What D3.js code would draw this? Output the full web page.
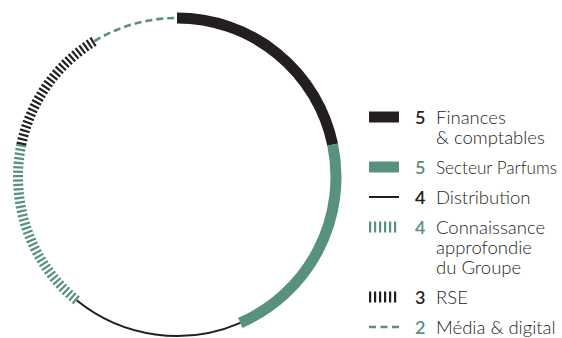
<!DOCTYPE html>
<html>
<head>
<meta charset="utf-8">
<script src="https://cdn.jsdelivr.net/npm/d3@7"></script>
<style>
  html, body { margin: 0; padding: 0; background: #fff; }
  svg { display: block; }
  text { font-family: Lato, "Open Sans", sans-serif; }
</style>
</head>
<body>
<svg id="chart"></svg>
<script>
// ---------- data ----------
const categories = ["Finances & comptables", "Secteur Parfums", "Distribution",
                    "Connaissance approfondie du Groupe", "RSE", "Média & digital"];
const labelLines = [["Finances", "& comptables"], ["Secteur Parfums"], ["Distribution"],
                    ["Connaissance", "approfondie", "du Groupe"], ["RSE"], ["Média & digital"]];
const counts = [5, 5, 4, 4, 3, 2];

// ---------- styles per category ----------
const BLACK = "#231f20", GREEN = "#58917c";
const styles = [
  {color: BLACK, width: 11,  dash: null,      numColor: BLACK},
  {color: GREEN, width: 11,  dash: null,      numColor: GREEN},
  {color: BLACK, width: 2,   dash: null,      numColor: BLACK},
  {color: GREEN, width: 10,  dash: "2.2 2.2", numColor: GREEN},
  {color: BLACK, width: 10,  dash: "2.2 2.2", numColor: BLACK},
  {color: GREEN, width: 2.6, dash: "7 4",     numColor: GREEN}
];

const width = 562, height = 338;
const cx = 177, cy = 177, r = 159;

const svg = d3.select("#chart").attr("width", width).attr("height", height);

//============ RING ============
const pie = d3.pie().sort(null).startAngle(0).endAngle(2 * Math.PI);
const slices = pie(counts);

svg.append("g").selectAll("path")
  .data(slices)
  .join("path")
  .attr("d", d => {
    const p = d3.path();
    p.arc(cx, cy, r, d.startAngle - Math.PI / 2, d.endAngle - Math.PI / 2);
    return p.toString();
  })
  .attr("fill", "none")
  .attr("stroke", (d, i) => styles[i].color)
  .attr("stroke-width", (d, i) => styles[i].width)
  .attr("stroke-dasharray", (d, i) => styles[i].dash);

//============ LEGEND ============
const lineH = 20, rowGap = 30;
let base = 124;
const rows = labelLines.map((lines, i) => {
  const row = {i, lines, base};
  base += (lines.length - 1) * lineH + rowGap;
  return row;
});

const swX = 369, swW = 30, numX = 415, txtX = 436;
const legend = svg.append("g");

rows.forEach(row => {
  const s = styles[row.i];
  const yc = row.base - 7;
  if (s.dash && s.width > 5) {
    // hatch swatch: short vertical ticks
    legend.append("line")
      .attr("x1", swX).attr("x2", swX + swW - 2)
      .attr("y1", yc).attr("y2", yc)
      .attr("stroke", s.color).attr("stroke-width", 11)
      .attr("stroke-dasharray", "2.2 2.8");
  } else if (s.dash) {
    legend.append("line")
      .attr("x1", swX).attr("x2", swX + swW)
      .attr("y1", yc).attr("y2", yc)
      .attr("stroke", s.color).attr("stroke-width", 2.6)
      .attr("stroke-dasharray", "7 4.5");
  } else if (s.width > 5) {
    legend.append("rect")
      .attr("x", swX).attr("y", yc - 5.5)
      .attr("width", swW).attr("height", 11)
      .attr("fill", s.color);
  } else {
    legend.append("line")
      .attr("x1", swX).attr("x2", swX + swW)
      .attr("y1", yc).attr("y2", yc)
      .attr("stroke", s.color).attr("stroke-width", 2);
  }

  legend.append("text")
    .attr("x", numX).attr("y", row.base)
    .attr("font-size", 18).attr("font-weight", 600)
    .attr("fill", s.numColor)
    .text(counts[row.i]);

  const t = legend.append("text")
    .attr("x", txtX).attr("y", row.base)
    .attr("font-size", 18.5).attr("font-weight", 300)
    .attr("fill", BLACK);
  row.lines.forEach((ln, k) => {
    const ts = t.append("tspan").attr("x", txtX).attr("dy", k === 0 ? 0 : lineH).text(ln);
    // the long single-line label is set condensed in the original
    if (ln === "Secteur Parfums") ts.attr("textLength", 121).attr("lengthAdjust", "spacingAndGlyphs");
  });
});
</script>
</body>
</html>
